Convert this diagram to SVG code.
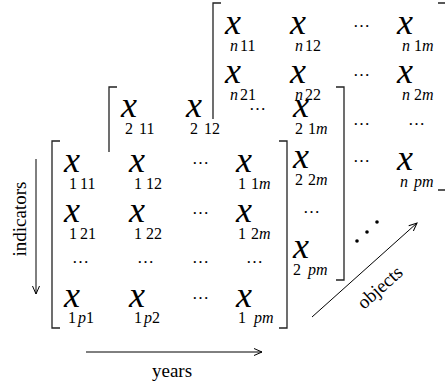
<svg xmlns="http://www.w3.org/2000/svg" width="445" height="384" viewBox="0 0 445 384" font-family="'Liberation Serif', 'Times New Roman', serif">
<style>
text{font-family:"Liberation Serif","Times New Roman",serif;fill:#000;font-size:16px}
.x{font-size:36px;font-style:italic}
.i{font-style:italic}
.d{font-size:17px}
.lab{font-size:19px}
.br{fill:none;stroke:#222;stroke-width:1.3}
.ar{fill:none;stroke:#000;stroke-width:1}
</style>
<defs>
<marker id="ah" markerWidth="10" markerHeight="8" refX="9" refY="4" orient="auto" markerUnits="userSpaceOnUse">
<path d="M1,0.5 L9,4 L1,7.5" fill="none" stroke="#000" stroke-width="1"/>
</marker>
</defs>
<rect width="445" height="384" fill="#fff"/>

<g id="matrix-n">
<path class="br" d="M221,3 H213 V119"/>
<path class="br" d="M438,3 H446 V190 H438"/>
<text x="225" y="34"><tspan class="x">x</tspan><tspan class="i" x="230" y="51">n</tspan><tspan x="240">11</tspan></text>
<text x="290" y="34"><tspan class="x">x</tspan><tspan class="i" x="295" y="51">n</tspan><tspan x="305">12</tspan></text>
<text class="d" x="353" y="27">…</text>
<text x="397" y="34"><tspan class="x">x</tspan><tspan class="i" x="402" y="51">n</tspan><tspan x="414">1</tspan><tspan class="i">m</tspan></text>
<text x="225" y="83"><tspan class="x">x</tspan><tspan class="i" x="230" y="100">n</tspan><tspan x="240">21</tspan></text>
<text x="290" y="83"><tspan class="x">x</tspan><tspan class="i" x="295" y="100">n</tspan><tspan x="305">22</tspan></text>
<text class="d" x="353" y="76">…</text>
<text x="397" y="83"><tspan class="x">x</tspan><tspan class="i" x="402" y="100">n</tspan><tspan x="414">2</tspan><tspan class="i">m</tspan></text>
<text class="d" x="353" y="125">…</text>
<text class="d" x="408" y="125">…</text>
<text class="d" x="353" y="162">…</text>
<text x="397" y="170"><tspan class="x">x</tspan><tspan class="i" x="400" y="187">n</tspan><tspan class="i" x="414">pm</tspan></text>
</g>

<g id="matrix-2">
<path class="br" d="M117,87 H109 V152"/>
<path class="br" d="M336,87 H344 V280 H336"/>
<text x="121" y="117"><tspan class="x">x</tspan><tspan x="125" y="134">2</tspan><tspan x="139">11</tspan></text>
<text x="186" y="117"><tspan class="x">x</tspan><tspan x="190" y="134">2</tspan><tspan x="204">12</tspan></text>
<text class="d" x="249" y="110">…</text>
<text x="293" y="117"><tspan class="x">x</tspan><tspan x="295" y="134">2</tspan><tspan x="308">1</tspan><tspan class="i">m</tspan></text>
<text x="293" y="168"><tspan class="x">x</tspan><tspan x="295" y="185">2</tspan><tspan x="308">2</tspan><tspan class="i">m</tspan></text>
<text class="d" x="303" y="213">…</text>
<text x="293" y="258"><tspan class="x">x</tspan><tspan x="293" y="275">2</tspan><tspan class="i" x="308">pm</tspan></text>
</g>

<g id="matrix-1">
<path class="br" d="M60,141 H52 V328 H60"/>
<path class="br" d="M279,141 H287 V328 H279"/>
<text x="64" y="172"><tspan class="x">x</tspan><tspan x="69" y="189">1</tspan><tspan x="80">11</tspan></text>
<text x="129" y="172"><tspan class="x">x</tspan><tspan x="134" y="189">1</tspan><tspan x="146">12</tspan></text>
<text class="d" x="192" y="164">…</text>
<text x="236" y="172"><tspan class="x">x</tspan><tspan x="238" y="189">1</tspan><tspan x="251">1</tspan><tspan class="i">m</tspan></text>
<text x="64" y="222"><tspan class="x">x</tspan><tspan x="69" y="239">1</tspan><tspan x="80">21</tspan></text>
<text x="129" y="222"><tspan class="x">x</tspan><tspan x="134" y="239">1</tspan><tspan x="146">22</tspan></text>
<text class="d" x="192" y="214">…</text>
<text x="236" y="222"><tspan class="x">x</tspan><tspan x="238" y="239">1</tspan><tspan x="251">2</tspan><tspan class="i">m</tspan></text>
<text class="d" x="72" y="263">…</text>
<text class="d" x="137" y="263">…</text>
<text class="d" x="192" y="263">…</text>
<text class="d" x="246" y="263">…</text>
<text x="64" y="307"><tspan class="x">x</tspan><tspan x="68" y="323">1</tspan><tspan class="i" x="78">p</tspan><tspan>1</tspan></text>
<text x="129" y="307"><tspan class="x">x</tspan><tspan x="134" y="323">1</tspan><tspan class="i" x="144">p</tspan><tspan>2</tspan></text>
<text class="d" x="192" y="299">…</text>
<text x="236" y="307"><tspan class="x">x</tspan><tspan x="238" y="323">1</tspan><tspan class="i" x="254">pm</tspan></text>
</g>

<g id="stack-dots">
<circle cx="357" cy="241" r="1.8"/>
<circle cx="367" cy="232" r="1.8"/>
<circle cx="377" cy="222" r="1.8"/>
</g>

<g id="connectors">
<line class="ar" x1="36" y1="159" x2="36" y2="294" marker-end="url(#ah)"/>
<line class="ar" x1="86" y1="352" x2="262" y2="352" marker-end="url(#ah)"/>
<line class="ar" x1="312" y1="317" x2="417" y2="223" marker-end="url(#ah)"/>
</g>

<g id="labels">
<text class="lab" x="0" y="0" text-anchor="middle" transform="translate(26,219) rotate(-90)">indicators</text>
<text class="lab" x="172" y="377" text-anchor="middle">years</text>
<text class="lab" x="0" y="0" text-anchor="middle" transform="translate(384,292) rotate(-41.8)">objects</text>
</g>
</svg>
